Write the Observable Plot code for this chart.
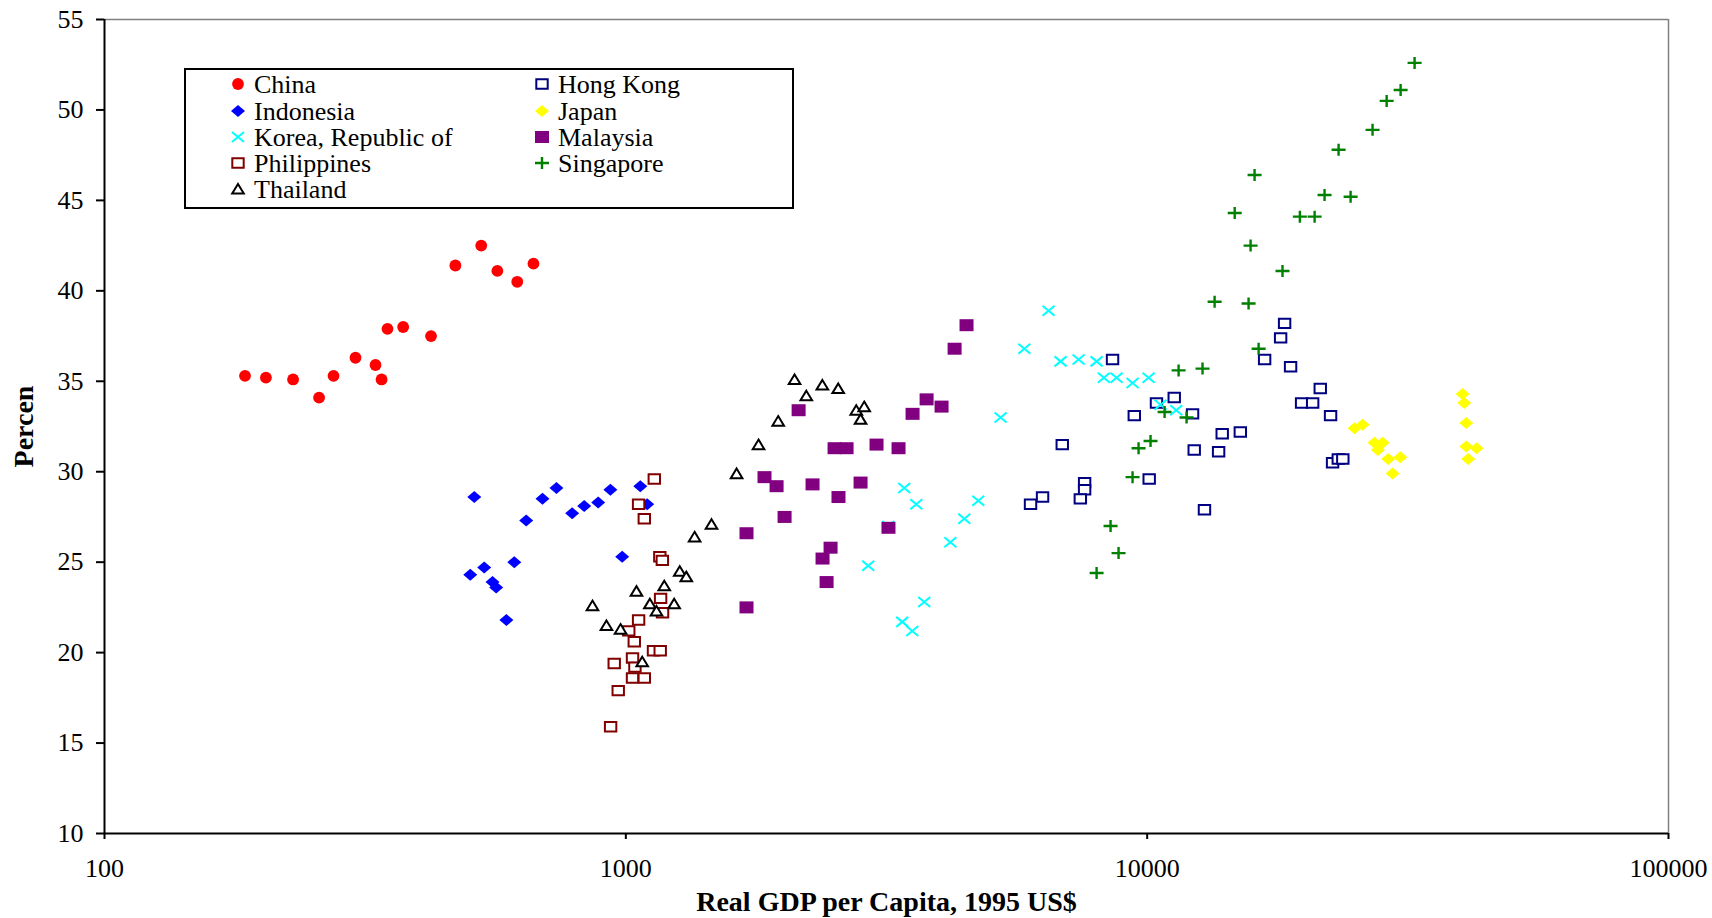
<!DOCTYPE html>
<html>
<head>
<meta charset="utf-8">
<script src="https://cdn.jsdelivr.net/npm/d3@7"></script>
<script src="https://cdn.jsdelivr.net/npm/@observablehq/plot@0.6"></script>
<style>
  html, body { margin: 0; padding: 0; background: #fff; }
  #wrap { position: relative; width: 1712px; height: 918px; overflow: hidden; }
  #legend { position: absolute; left: 184px; top: 68px; }
</style>
</head>
<body>
<div id="wrap"></div>
<script>
// ---- data: [real GDP per capita (1995 US$), percent] ----
const china = [[186,35.3],[204,35.2],[230,35.1],[258,34.1],[275,35.3],[303,36.3],[331,35.9],[340,35.1],[349,37.9],[374,38.0],[423,37.5],[471,41.4],[528,42.5],[567,41.1],[619,40.5],[665,41.5]];
const hongKong = [[8582,36.2],[18350,38.2],[18030,37.4],[16800,36.2],[18840,35.8],[19780,33.8],[10420,33.8],[11270,34.1],[12220,33.2],[9447,33.1],[13930,32.1],[15090,32.2],[12310,31.2],[13710,31.1],[6873,31.5],[10090,29.6],[7586,29.4],[7586,29.0],[7444,28.5],[6300,28.6],[5974,28.2],[12880,27.9],[21480,34.6],[20770,33.8],[22480,33.1],[22680,30.5],[23260,30.7],[23730,30.7]];
const indonesia = [[512,28.6],[644,27.3],[692,28.5],[736,29.1],[789,27.7],[832,28.1],[885,28.3],[934,29.0],[1066,29.2],[1099,28.2],[984,25.3],[503,24.3],[535,24.7],[611,25.0],[555,23.9],[564,23.6],[590,21.8]];
const japan = [[40270,34.3],[40580,33.8],[40940,32.7],[40940,31.4],[42850,31.3],[41300,30.7],[25900,32.6],[25000,32.4],[27300,31.6],[28290,31.6],[27710,31.2],[29010,30.7],[30590,30.8],[29570,29.9]];
const korea = [[5234,33.0],[3420,29.1],[3607,28.2],[4743,28.4],[4459,27.4],[3188,27.0],[4192,26.1],[2917,24.8],[3736,22.8],[3390,21.7],[3543,21.2],[6470,38.9],[5813,36.8],[6822,36.1],[7387,36.2],[7998,36.1],[8260,35.2],[8735,35.2],[9375,34.9],[10063,35.2],[10610,33.7],[11370,33.4]];
const malaysia = [[4503,38.1],[4272,36.8],[3775,34.0],[4033,33.6],[3548,33.2],[2145,33.4],[3026,31.5],[3335,31.3],[2514,31.3],[2651,31.3],[1845,29.7],[1946,29.2],[2281,29.3],[2820,29.4],[2558,28.6],[2016,27.5],[1704,26.6],[3190,26.9],[2470,25.8],[2384,25.2],[2427,23.9],[1704,22.5]];
const philippines = [[1134,29.6],[1058,28.2],[1085,27.4],[1162,25.3],[1175,25.1],[1166,23.0],[1176,22.2],[1058,21.8],[1013,21.2],[1038,20.6],[1130,20.1],[1164,20.1],[1030,19.7],[1041,19.2],[950,19.4],[1030,18.6],[1085,18.6],[967,17.9],[935,15.9]];
const singapore = [[13470,39.4],[15650,39.3],[16360,36.8],[11490,35.6],[12770,35.7],[10800,33.3],[11900,33.0],[10150,31.7],[9627,31.3],[9375,29.7],[8507,27.0],[8813,25.5],[7998,24.4],[32580,52.6],[30630,51.1],[28800,50.5],[27060,48.9],[23290,47.8],[16070,46.4],[21890,45.3],[24560,45.2],[14720,44.3],[19630,44.1],[20950,44.1],[15790,42.5],[18180,41.1]];
const thailand = [[1355,26.4],[1460,27.1],[1269,24.5],[1306,24.2],[1185,23.7],[1048,23.4],[1112,22.7],[1238,22.7],[1145,22.3],[863,22.6],[918,21.5],[977,21.3],[1075,19.5],[2107,35.1],[2382,34.8],[2555,34.6],[2219,34.2],[1960,32.8],[2767,33.4],[2866,33.6],[2820,32.9],[1797,31.5],[1631,29.9]];

const xTicks = [100, 1000, 10000, 100000];
const yTicks = [10, 15, 20, 25, 30, 35, 40, 45, 50, 55];
const xTitle = "Real GDP per Capita, 1995 US$";
const yTitle = "Percen";

// ---- marker shapes ----
const symCircle = {draw(c){ c.moveTo(5.9,0); c.arc(0,0,5.9,0,2*Math.PI); }};
const symDiamond = {draw(c){ c.moveTo(-7,0); c.lineTo(0,-6); c.lineTo(7,0); c.lineTo(0,6); c.closePath(); }};
const symTimes = {draw(c){ c.moveTo(-6,-5); c.lineTo(6,5); c.moveTo(-6,5); c.lineTo(6,-5); }};
const symSquareO = {draw(c){ c.rect(-5.7,-4.7,11.4,9.4); }};
const symTriangle = {draw(c){ c.moveTo(0,-5); c.lineTo(5.8,4.6); c.lineTo(-5.8,4.6); c.closePath(); }};
const symSquareF = {draw(c){ c.rect(-7,-6,14,12); }};
const symPlus = {draw(c){ c.moveTo(-7,0); c.lineTo(7,0); c.moveTo(0,-6); c.lineTo(0,6); }};

// draw order (series order)
const series = [
  {name: "China", data: china, symbol: symCircle, fill: "#ff0000", stroke: "none", sw: 0},
  {name: "Hong Kong", data: hongKong, symbol: symSquareO, fill: "#ffffff", stroke: "#000080", sw: 2},
  {name: "Indonesia", data: indonesia, symbol: symDiamond, fill: "#0000ff", stroke: "none", sw: 0},
  {name: "Japan", data: japan, symbol: symDiamond, fill: "#ffff00", stroke: "none", sw: 0},
  {name: "Korea, Republic of", data: korea, symbol: symTimes, fill: "none", stroke: "#00ffff", sw: 2},
  {name: "Malaysia", data: malaysia, symbol: symSquareF, fill: "#800080", stroke: "none", sw: 0},
  {name: "Philippines", data: philippines, symbol: symSquareO, fill: "#ffffff", stroke: "#800000", sw: 2},
  {name: "Singapore", data: singapore, symbol: symPlus, fill: "none", stroke: "#008000", sw: 2.4},
  {name: "Thailand", data: thailand, symbol: symTriangle, fill: "#ffffff", stroke: "#000000", sw: 2}
];
// legend layout (column, row)
const legendOrder = [
  ["China", 0, 0], ["Hong Kong", 1, 0],
  ["Indonesia", 0, 1], ["Japan", 1, 1],
  ["Korea, Republic of", 0, 2], ["Malaysia", 1, 2],
  ["Philippines", 0, 3], ["Singapore", 1, 3],
  ["Thailand", 0, 4]
];

const font = "'Liberation Serif', 'Times New Roman', Times, serif";

const marks = [
  Plot.ruleY([55], {stroke: "#808080", strokeWidth: 1.5}),
  Plot.ruleX([100000], {stroke: "#808080", strokeWidth: 1.5}),
  ...series.map(s => Plot.dot(s.data, {
    x: d => d[0], y: d => d[1], symbol: s.symbol,
    fill: s.fill, stroke: s.stroke, strokeWidth: s.sw
  })),
  Plot.ruleX([100], {stroke: "#000", strokeWidth: 2}),
  Plot.ruleY([10], {stroke: "#000", strokeWidth: 2}),
  Plot.axisX({ticks: xTicks, tickFormat: d => String(d), tickSize: 6, tickPadding: 19, strokeWidth: 2, fontSize: 26, label: null}),
  Plot.axisY({ticks: yTicks, tickSize: 8, tickPadding: 13, strokeWidth: 2, fontSize: 26, label: null}),
  Plot.text([yTitle], {frameAnchor: "left", dx: -80, rotate: -90, fontWeight: "bold", fontSize: 28, textAnchor: "middle", lineAnchor: "middle"}),
  Plot.text([xTitle], {frameAnchor: "bottom", dy: 69, fontWeight: "bold", fontSize: 28, textAnchor: "middle", lineAnchor: "middle"})
];

const chart = Plot.plot({
  width: 1712, height: 918,
  marginLeft: 104, marginRight: 44, marginTop: 19, marginBottom: 85,
  x: {type: "log", domain: [100, 100000]},
  y: {domain: [10, 55]},
  style: {fontFamily: font, fontSize: "26px", color: "#000", background: "#fff"},
  marks
});
document.getElementById("wrap").appendChild(chart);

// ---- legend box ----
const lw = 610, lh = 141;
const leg = d3.create("svg").attr("id", "legend").attr("width", lw).attr("height", lh)
  .style("font-family", font).style("font-size", "26px");
leg.append("rect").attr("x", 1).attr("y", 1).attr("width", lw - 2).attr("height", lh - 2)
  .attr("fill", "#fff").attr("stroke", "#000").attr("stroke-width", 2);
const colSym = [54, 358], colText = [70, 374], rowY = [16, 43, 69, 95, 121];
for (const [name, col, row] of legendOrder) {
  const s = series.find(t => t.name === name);
  leg.append("path")
    .attr("transform", `translate(${colSym[col]},${rowY[row]})`)
    .attr("d", d3.symbol(s.symbol)())
    .attr("fill", s.fill).attr("stroke", s.stroke).attr("stroke-width", s.sw);
  leg.append("text").attr("x", colText[col]).attr("y", rowY[row]).attr("dy", "0.34em").text(name);
}
document.getElementById("wrap").appendChild(leg.node());
</script>
</body>
</html>
